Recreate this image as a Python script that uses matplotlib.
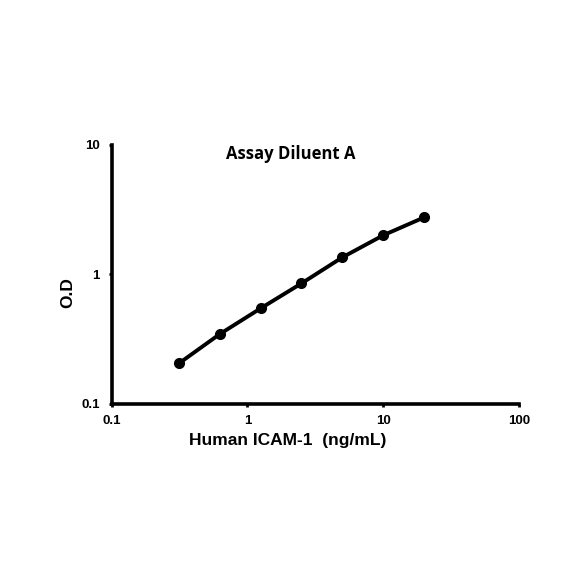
import numpy as np
import matplotlib
matplotlib.use('Agg')
import matplotlib.pyplot as plt

# data
conc = [0.3125, 0.625, 1.25, 2.5, 5, 10, 20]
od = [0.204, 0.344, 0.544, 0.849, 1.35, 2.0, 2.75]

xticks = [0.1, 1, 10, 100]
xticklabels = ['0.1', '1', '10', '100']
yticks = [0.1, 1, 10]
yticklabels = ['0.1', '1', '10']

plt.rcParams['font.family'] = ['Liberation Sans', 'DejaVu Sans']

fig = plt.figure(figsize=(5.84, 5.84), dpi=100)
ax = fig.add_axes([0.191, 0.309, 0.698, 0.443])

ax.plot(conc, od, color='black', lw=2.8, marker='o', ms=7, clip_on=False)

ax.set_xscale('log')
ax.set_yscale('log')
ax.set_xlim(0.1, 100)
ax.set_ylim(0.1, 10)
ax.minorticks_off()
ax.set_xticks(xticks)
ax.set_xticklabels(xticklabels, fontweight='bold', fontsize=9.5)
ax.set_yticks(yticks)
ax.set_yticklabels(yticklabels, fontweight='bold', fontsize=9.5)

for s in ['top', 'right']:
    ax.spines[s].set_visible(False)
for s in ['left', 'bottom']:
    ax.spines[s].set_linewidth(2.6)
ax.tick_params(direction='out', length=2.5, width=2, pad=6)

ax.set_xlabel('Human ICAM-1  (ng/mL)', fontsize=12.5, fontweight='bold')
ax.xaxis.set_label_coords(0.433, -0.115)
ax.set_ylabel('O.D', fontsize=12.5, fontweight='bold')
ax.yaxis.set_label_coords(-0.09, 0.43)
ax.text(0.44, 0.965, 'Assay Diluent A', transform=ax.transAxes, ha='center', va='center',
        fontsize=12, fontweight='bold', family=['Open Sans', 'DejaVu Sans'])

plt.savefig('out.png', dpi=100)
